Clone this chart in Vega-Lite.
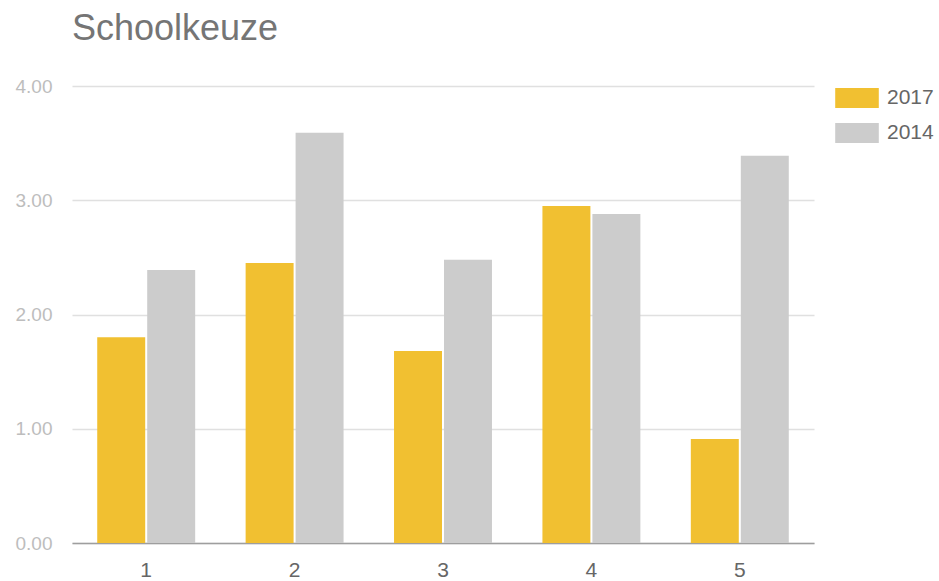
{
  "$schema": "https://vega.github.io/schema/vega-lite/v6.json",
  "width": 742,
  "height": 457,
  "autosize": {"type": "none"},
  "padding": {"left": 72, "top": 86, "right": 125, "bottom": 38},
  "background": "white",
  "title": {
    "text": "Schoolkeuze",
    "anchor": "start",
    "frame": "group",
    "font": "Liberation Sans",
    "fontSize": 36,
    "fontWeight": "normal",
    "color": "#757575",
    "offset": 28
  },
  "config": {
    "view": {"stroke": null},
    "font": "Liberation Sans"
  },
  "data": {
    "values": [
      {"cat": "1", "year": "2017", "value": 1.80},
      {"cat": "1", "year": "2014", "value": 2.39},
      {"cat": "2", "year": "2017", "value": 2.45},
      {"cat": "2", "year": "2014", "value": 3.59},
      {"cat": "3", "year": "2017", "value": 1.68},
      {"cat": "3", "year": "2014", "value": 2.48},
      {"cat": "4", "year": "2017", "value": 2.95},
      {"cat": "4", "year": "2014", "value": 2.88},
      {"cat": "5", "year": "2017", "value": 0.91},
      {"cat": "5", "year": "2014", "value": 3.39}
    ]
  },
  "mark": {"type": "bar"},
  "encoding": {
    "x": {
      "field": "cat",
      "type": "nominal",
      "sort": ["1", "2", "3", "4", "5"],
      "scale": {"paddingInner": 0.34, "paddingOuter": 0.17},
      "axis": {
        "title": null,
        "labelAngle": 0,
        "ticks": false,
        "labelPadding": 16,
        "labelFontSize": 21,
        "labelColor": "#666666",
        "domainColor": "#9e9e9e",
        "domainWidth": 1.5,
        "grid": false
      }
    },
    "xOffset": {
      "field": "year",
      "type": "nominal",
      "scale": {"domain": ["2017", "2014"], "paddingInner": 0.04}
    },
    "y": {
      "field": "value",
      "type": "quantitative",
      "scale": {"domain": [0, 4]},
      "axis": {
        "title": null,
        "values": [0, 1, 2, 3, 4],
        "format": ".2f",
        "domain": false,
        "ticks": false,
        "labelPadding": 20,
        "labelFontSize": 19,
        "labelColor": "#bdbdbd",
        "gridColor": "#e0e0e0",
        "gridWidth": 1.5
      }
    },
    "color": {
      "field": "year",
      "type": "nominal",
      "scale": {"domain": ["2017", "2014"], "range": ["#f1c031", "#cccccc"]},
      "legend": {
        "title": null,
        "orient": "none",
        "legendX": 763,
        "legendY": -10,
        "symbolType": "M-1,-0.46H1V0.46H-1Z",
        "symbolSize": 1900,
        "symbolStrokeWidth": 0,
        "symbolOpacity": 1,
        "labelFontSize": 21,
        "labelColor": "#666666",
        "labelOffset": 8,
        "rowPadding": 2
      }
    }
  }
}
